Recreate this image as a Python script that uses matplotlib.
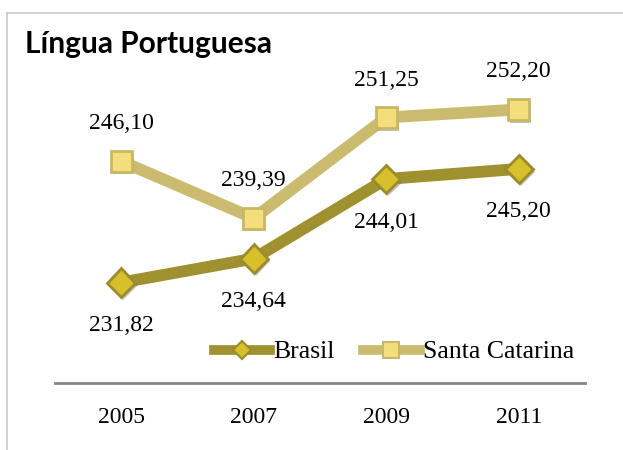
import matplotlib.pyplot as plt
import matplotlib.patheffects as pe
from matplotlib.lines import Line2D

years = ["2005", "2007", "2009", "2011"]
brasil = [231.82, 234.64, 244.01, 245.20]
santa_catarina = [246.10, 239.39, 251.25, 252.20]

serif = ["Liberation Serif", "DejaVu Serif"]

fig = plt.figure(figsize=(6.23, 4.5), dpi=100)
ax = fig.add_axes([0.0883, 0.149, 0.8507, 0.755])

x = list(range(len(years)))
shadow = [pe.SimplePatchShadow(offset=(1.5, -2), shadow_rgbFace="#777777", alpha=0.45), pe.Normal()]

sc_line = "#CBBB6E"
br_line = "#9F912F"

ax.plot(x, santa_catarina, color=sc_line, lw=8.5, solid_capstyle="butt", zorder=2)
ax.plot(x, santa_catarina, ls="none", marker="s", ms=15, mfc="#F4DE7C", mec="#C8B865",
        mew=2, zorder=3, path_effects=shadow)
ax.plot(x, brasil, color=br_line, lw=8.5, solid_capstyle="butt", zorder=2)
ax.plot(x, brasil, ls="none", marker="D", ms=14.5, mfc="#D8C02C", mec="#9C8B2A",
        mew=2, zorder=3, path_effects=shadow)

# value labels: Brasil below, Santa Catarina above
for xi, v in zip(x, brasil):
    ax.annotate(f"{v:.2f}".replace(".", ","), (xi, v), xytext=(0, -31), textcoords="offset points",
                ha="center", va="center", fontsize=17, family=serif)
for xi, v in zip(x, santa_catarina):
    ax.annotate(f"{v:.2f}".replace(".", ","), (xi, v), xytext=(0, 27), textcoords="offset points",
                ha="center", va="center", fontsize=17, family=serif)

ax.set_xlim(-0.5, len(years) - 0.5)
ax.set_ylim(220, 260)
ax.set_xticks(x)
ax.set_xticklabels(years, fontsize=17, family=serif)
ax.tick_params(axis="x", length=0, pad=17)
ax.set_yticks([])
for side in ["top", "right", "left"]:
    ax.spines[side].set_visible(False)
ax.spines["bottom"].set_color("#858585")
ax.spines["bottom"].set_linewidth(2)
ax.patch.set_alpha(0)

handles = [
    Line2D([], [], color=br_line, lw=7, marker="D", ms=9, mfc="#D8C02C", mec="#9C8B2A", mew=1.5),
    Line2D([], [], color=sc_line, lw=7, marker="s", ms=11, mfc="#F4DE7C", mec="#C8B865", mew=1.5),
]
fig.legend(handles, ["Brasil", "Santa Catarina"], loc="center", bbox_to_anchor=(394 / 623, 1 - 352 / 450),
           ncol=2, frameon=False, prop={"family": serif, "size": 18.5}, handlelength=2.2,
           handletextpad=0.12, columnspacing=1.1, borderpad=0)

fig.text(25 / 623, 1 - 44 / 450, "Língua Portuguesa", fontsize=21.5, fontweight="bold",
         family=["Lato", "DejaVu Sans"], va="center", ha="left")

# outer frame (top and left edges only)
fig.add_artist(Line2D([6.5 / 623, 6.5 / 623], [0, 1 - 12.5 / 450], transform=fig.transFigure,
                      color="#C8C8C8", lw=1.2))
fig.add_artist(Line2D([6.5 / 623, 1], [1 - 12.5 / 450, 1 - 12.5 / 450], transform=fig.transFigure,
                      color="#C8C8C8", lw=1.2))

fig.savefig("out.png", dpi=100)
